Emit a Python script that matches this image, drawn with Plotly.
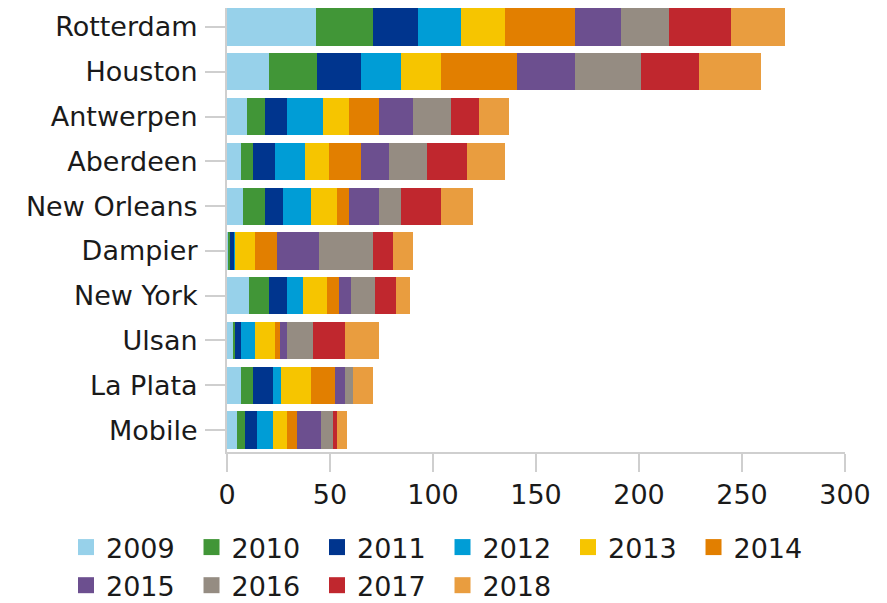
import plotly.graph_objects as go

ports = ["Rotterdam", "Houston", "Antwerpen", "Aberdeen", "New Orleans",
         "Dampier", "New York", "Ulsan", "La Plata", "Mobile"]
years = ["2009", "2010", "2011", "2012", "2013", "2014", "2015", "2016", "2017", "2018"]

v2009 = [43.0, 20.4, 9.7, 6.8, 7.9, 0.5, 10.8, 3.0, 6.8, 4.9]
v2010 = [28.0, 23.4, 8.8, 5.8, 10.7, 1.0, 9.7, 0.7, 5.8, 3.8]
v2011 = [21.5, 21.3, 10.7, 10.7, 8.7, 2.0, 8.7, 3.2, 9.7, 5.8]
v2012 = [21.3, 19.4, 17.5, 14.8, 13.6, 0.5, 7.8, 6.9, 3.9, 7.8]
v2013 = [21.2, 19.6, 12.6, 11.4, 12.6, 9.7, 11.6, 9.7, 14.5, 6.8]
v2014 = [34.0, 36.6, 14.5, 15.5, 5.8, 10.7, 5.8, 2.0, 11.7, 4.9]
v2015 = [22.3, 28.3, 16.5, 13.8, 14.7, 20.3, 5.9, 3.8, 4.8, 11.6]
v2016 = [23.3, 31.8, 18.5, 18.3, 10.5, 26.2, 11.6, 12.6, 3.9, 5.9]
v2017 = [30.0, 28.3, 13.7, 19.6, 19.4, 9.7, 9.9, 15.5, 0.0, 1.9]
v2018 = [26.2, 30.1, 14.3, 18.4, 15.5, 9.7, 6.8, 16.5, 9.7, 4.8]

series = [v2009, v2010, v2011, v2012, v2013, v2014, v2015, v2016, v2017, v2018]
colors = ["#97d1ea", "#419637", "#00358e", "#009dd6", "#f6c500",
          "#e27f00", "#6c4f8f", "#958c82", "#c0272e", "#e99d3f"]

x_ticks = [0, 50, 100, 150, 200, 250, 300]

FONT = "DejaVu Sans, Verdana, sans-serif"
FS = 27
TXT = "#1a1a1a"
AXC = "#cfcfcf"

fig = go.Figure()
for yr, vals, col in zip(years, series, colors):
    fig.add_trace(go.Bar(
        y=ports, x=vals, orientation="h", name=yr,
        marker=dict(color=col, line=dict(width=0)),
        showlegend=False,
    ))
for yr, col in zip(years, colors):
    fig.add_trace(go.Scatter(
        x=[None], y=[None], mode="markers", name=yr,
        marker=dict(symbol="square", size=16, color=col),
    ))

# page body has an 8px margin, so the figure is sized/offset to compensate
fig.update_layout(
    width=879, height=595,
    margin=dict(l=219, r=42, t=0, b=151, autoexpand=False),
    barmode="stack", bargap=0.17,
    plot_bgcolor="white", paper_bgcolor="white",
    font=dict(family=FONT, size=FS, color=TXT),
    legend=dict(orientation="h", traceorder="normal",
                x=-0.2605, xanchor="left", y=-0.16, yanchor="top",
                font=dict(family=FONT, size=FS, color=TXT),
                entrywidth=80.5, entrywidthmode="pixels",
                itemclick=False, itemdoubleclick=False),
)
fig.update_xaxes(
    range=[0, 300], tickvals=x_ticks, ticktext=[str(t) for t in x_ticks],
    showgrid=False, zeroline=False, automargin=False,
    showline=True, linecolor=AXC, linewidth=2,
    ticks="outside", ticklen=18, tickwidth=2, tickcolor=AXC,
    tickfont=dict(family=FONT, size=FS, color=TXT),
)
fig.update_yaxes(
    categoryorder="array", categoryarray=ports,
    range=[9.49, -0.424],
    showgrid=False, zeroline=False, automargin=False,
    showline=True, linecolor=AXC, linewidth=2,
    ticks="outside", ticklen=20, tickwidth=2, tickcolor=AXC,
    ticklabelstandoff=2,
    tickfont=dict(family=FONT, size=FS, color=TXT),
)

fig.write_html("out.html")
